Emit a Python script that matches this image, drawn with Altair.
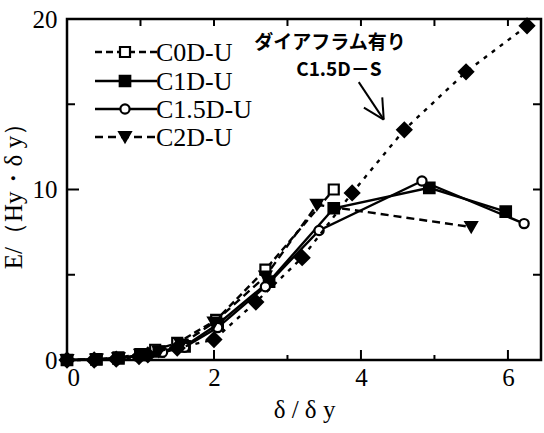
import altair as alt
import pandas as pd

# ---------------- data ----------------
c0d_x = [0, 0.4, 0.7, 1.0, 1.2, 1.5, 2.03, 2.7, 3.63]
c0d_y = [0, 0.05, 0.15, 0.35, 0.6, 1.0, 2.35, 5.3, 10.0]

c1d_x = [0, 0.4, 0.7, 1.0, 1.25, 1.6, 2.05, 2.75, 3.63, 4.93, 5.97]
c1d_y = [0, 0.03, 0.1, 0.3, 0.5, 0.8, 2.1, 4.6, 8.9, 10.1, 8.7]

c15d_x = [0, 0.4, 0.7, 1.0, 1.3, 1.6, 2.05, 2.7, 3.43, 4.83, 6.22]
c15d_y = [0, 0.03, 0.1, 0.25, 0.45, 0.75, 1.9, 4.3, 7.6, 10.5, 8.0]

c2d_x = [0, 0.4, 0.7, 1.0, 1.25, 1.55, 2.0, 2.7, 3.4, 5.5]
c2d_y = [0, 0.03, 0.1, 0.3, 0.5, 0.9, 2.2, 4.9, 9.1, 7.8]

c15s_x = [0, 0.37, 0.67, 0.98, 1.1, 1.5, 2.0, 2.57, 3.2, 3.88, 4.59, 5.43, 6.26]
c15s_y = [0, 0.0, 0.05, 0.2, 0.3, 0.7, 1.2, 3.4, 6.0, 9.8, 13.5, 16.9, 19.6]

x_labels = [0, 2, 4, 6]
y_labels = [0, 10, 20]
x_major_ticks = [2, 4, 6]
x_minor_ticks = [1, 3, 5]
top_ticks = [1, 2, 3, 4, 5, 6]
y_major_ticks = [10]
y_minor_ticks = [5, 15]
right_ticks = [5, 10, 15]

note_text = ["ダイアフラム有り", "C1.5D－S"]
note_x = [3.58, 3.70]
note_y = [18.6, 17.0]
arrow_x = [3.97, 4.31, 4.31]
arrow_y = [16.3, 14.1, 14.1]
arrow_x2 = [4.31, 4.04, 4.29]
arrow_y2 = [14.1, 14.8, 15.4]

# ---------------- chart ----------------
W, H = 474, 341
SERIF = "Liberation Serif"
xs = alt.Scale(domain=[0, 6.45], nice=False, zero=False)
ys = alt.Scale(domain=[0, 20], nice=False)

x_axis = alt.Axis(values=x_labels, ticks=False, domain=False, grid=False,
                  labelFont=SERIF, labelFontSize=25, labelColor="black",
                  labelPadding=5, title="δ / δ y", titleFont=SERIF,
                  titleFontSize=25, titleFontWeight="normal", titleColor="black",
                  titlePadding=7)
y_axis = alt.Axis(values=y_labels, ticks=False, domain=False, grid=False,
                  labelFont=SERIF, labelFontSize=25, labelColor="black",
                  labelPadding=10, title="E/（Hy・δ y）", titleFont=SERIF,
                  titleFontSize=25, titleFontWeight="normal", titleColor="black",
                  titlePadding=6)

X = lambda: alt.X("x:Q", scale=xs, axis=x_axis)
Y = lambda: alt.Y("y:Q", scale=ys, axis=y_axis)

series = [
    ("C0D-U", c0d_x, c0d_y, [7, 4], "square", False, 100),
    ("C1D-U", c1d_x, c1d_y, None, "square", True, 110),
    ("C1.5D-U", c15d_x, c15d_y, None, "circle", False, 85),
    ("C2D-U", c2d_x, c2d_y, [8, 5], "triangle-down", True, 130),
    ("C1.5D-S", c15s_x, c15s_y, [4, 6], "diamond", True, 200),
]

layers = []
for name, xv, yv, dash, shape, filled, size in series:
    df = pd.DataFrame({"x": xv, "y": yv})
    line_kw = dict(color="black", strokeWidth=2.4)
    if dash:
        line_kw["strokeDash"] = dash
    layers.append(alt.Chart(df).mark_line(**line_kw).encode(x=X(), y=Y()))
    layers.append(alt.Chart(df).mark_point(
        shape=shape, filled=True, fill="black" if filled else "white",
        stroke="black", strokeWidth=2.2, size=size, opacity=1
    ).encode(x=X(), y=Y()))

# inward tick marks
def vticks(vals, y0, y1):
    return alt.Chart(pd.DataFrame({"x": vals})).mark_rule(color="black", strokeWidth=2).encode(
        x=X(), y=alt.value(y0), y2=alt.value(y1))

def hticks(vals, x0, x1):
    return alt.Chart(pd.DataFrame({"y": vals})).mark_rule(color="black", strokeWidth=2).encode(
        y=Y(), x=alt.value(x0), x2=alt.value(x1))

layers += [
    vticks(x_major_ticks, H, H - 10),
    vticks(x_minor_ticks, H, H - 5),
    vticks(top_ticks, 0, 7),
    hticks(y_major_ticks, 0, 12),
    hticks(y_minor_ticks, 0, 8),
    hticks(right_ticks, W, W - 8),
]

# annotation
ann = pd.DataFrame({"x": note_x, "y": note_y, "t": note_text})
layers.append(alt.Chart(ann.iloc[[0]]).mark_text(
    font="Noto Sans CJK JP", fontSize=19, fontWeight="bold", color="black").encode(
    x=X(), y=Y(), text="t:N"))
layers.append(alt.Chart(ann.iloc[[1]]).mark_text(
    font="Noto Sans CJK JP", fontSize=19, fontWeight="bold", color="black").encode(
    x=X(), y=Y(), text="t:N"))
arr = pd.DataFrame({"x": arrow_x, "y": arrow_y, "x2": arrow_x2, "y2": arrow_y2})
layers.append(alt.Chart(arr).mark_rule(color="black", strokeWidth=2).encode(
    x=X(), y=Y(), x2="x2:Q", y2="y2:Q"))

# manual legend
legend_rows = [33, 62, 90, 118]
for (name, xv, yv, dash, shape, filled, size), ly in zip(series[:4], legend_rows):
    one = pd.DataFrame({"t": [name]})
    rk = dict(color="black", strokeWidth=2.4)
    if dash:
        rk["strokeDash"] = dash
    layers.append(alt.Chart(one).mark_rule(**rk).encode(
        x=alt.value(28), x2=alt.value(90), y=alt.value(ly)))
    layers.append(alt.Chart(one).mark_point(
        shape=shape, filled=True, fill="black" if filled else "white",
        stroke="black", strokeWidth=2.2, size=size, opacity=1).encode(
        x=alt.value(58), y=alt.value(ly)))
    layers.append(alt.Chart(one).mark_text(
        font=SERIF, fontSize=26, align="left", baseline="middle", color="black").encode(
        x=alt.value(89), y=alt.value(ly + 1), text="t:N"))

chart = alt.layer(*layers).properties(
    width=W, height=H,
    autosize=alt.AutoSizeParams(type="none"),
    padding={"left": 67, "top": 19, "right": 3, "bottom": 73},
    background="white",
).configure_view(stroke="black", strokeWidth=2.5)

chart.save("out.html", embed_options={"renderer": "svg", "actions": False})
